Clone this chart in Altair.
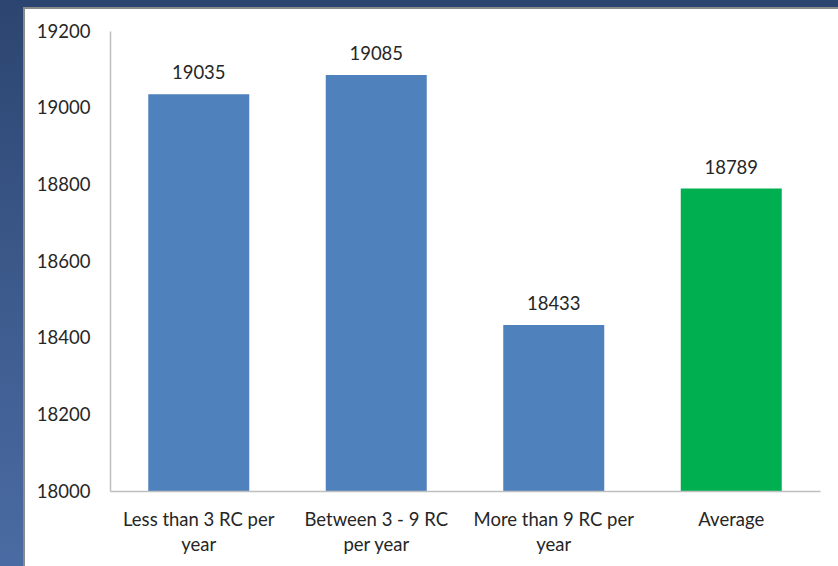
import altair as alt
import pandas as pd

# Data
categories = [
    "Less than 3 RC per\nyear",
    "Between 3 - 9 RC\nper year",
    "More than 9 RC per\nyear",
    "Average",
]
values = [19035, 19085, 18433, 18789]
bar_colors = ["#4f81bd", "#4f81bd", "#4f81bd", "#00b050"]
y_ticks = [18000, 18200, 18400, 18600, 18800, 19000, 19200]

df = pd.DataFrame({"category": categories, "value": values, "color": bar_colors})

FONT = "Lato"
FS = 18.5
TEXT = "#262626"

# Frame: dark slide background, gradient strip on the left, white panel
one = alt.Data(values=[{}])

top_strip = alt.Chart(one).mark_rect(color="#2c4570").encode(
    x=alt.value(-110), x2=alt.value(740), y=alt.value(-31), y2=alt.value(-24)
)
left_strip = alt.Chart(one).mark_rect(
    fill=alt.Gradient(
        gradient="linear",
        stops=[
            alt.GradientStop(color="#2c4570", offset=0),
            alt.GradientStop(color="#3d5a8c", offset=0.5),
            alt.GradientStop(color="#4a6ca4", offset=1),
        ],
        x1=0, x2=0, y1=0, y2=1,
    )
).encode(x=alt.value(-110), x2=alt.value(-87), y=alt.value(-31), y2=alt.value(545))
panel = alt.Chart(one).mark_rect(
    fill="white", stroke="#8a8a8a", strokeWidth=2
).encode(x=alt.value(-86), x2=alt.value(740), y=alt.value(-23), y2=alt.value(545))

base = alt.Chart(df)

bars = base.mark_bar(size=101, clip=True).encode(
    x=alt.X(
        "category:N",
        sort=categories,
        scale=alt.Scale(paddingInner=0.43, paddingOuter=0.215),
        axis=alt.Axis(
            title=None,
            labelAngle=0,
            labelExpr="split(datum.label, '\\n')",
            labelFont=FONT,
            labelFontSize=FS,
            labelColor=TEXT,
            labelLineHeight=25,
            labelPadding=19,
            ticks=False,
            domainColor="#bfbfbf",
            domainWidth=1.5,
            zindex=1,
        ),
    ),
    y=alt.Y(
        "value:Q",
        scale=alt.Scale(domain=[18000, 19200], zero=False, nice=False),
        axis=alt.Axis(
            title=None,
            values=y_ticks,
            format="d",
            grid=False,
            ticks=False,
            labelFont=FONT,
            labelFontSize=FS,
            labelColor=TEXT,
            labelPadding=20,
            domainColor="#bfbfbf",
            domainWidth=1.5,
            zindex=1,
        ),
    ),
    color=alt.Color("color:N", scale=None),
)

labels = base.mark_text(
    baseline="bottom", dy=-11, font=FONT, fontSize=FS, color=TEXT
).encode(
    x=alt.X("category:N", sort=categories),
    y="value:Q",
    text=alt.Text("value:Q", format="d"),
)

chart = (
    alt.layer(top_strip, left_strip, panel, bars, labels)
    .properties(
        width=710,
        height=460,
        background="#2c4570",
        padding={"left": 110, "top": 31, "right": 18, "bottom": 75},
        autosize=alt.AutoSizeParams(type="none"),
    )
    .configure_view(stroke=None)
)

chart.save("out.html", embed_options={"renderer": "svg", "actions": False})
